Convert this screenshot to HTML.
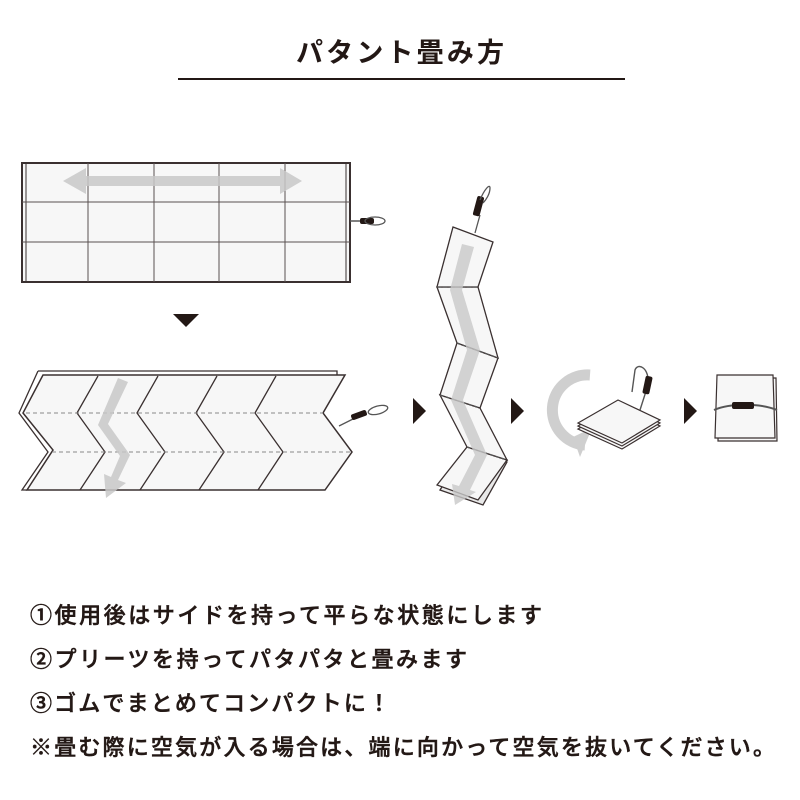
<!DOCTYPE html>
<html><head><meta charset="utf-8"><style>
html,body{margin:0;padding:0;background:#fff;width:800px;height:800px;overflow:hidden}
svg{display:block}
text{font-family:"Liberation Sans","Noto Sans CJK JP",sans-serif;fill:#231815}
</style></head><body>
<svg width="800" height="800" viewBox="0 0 800 800" xmlns="http://www.w3.org/2000/svg">
<text x="400" y="62" text-anchor="middle" font-size="27" font-weight="bold" textLength="208">パタント畳み方</text>
<line x1="178" y1="79" x2="625" y2="79" stroke="#231815" stroke-width="2"/>

<!-- top flat panel -->
<rect x="22" y="163" width="328" height="119" fill="#f7f7f7" stroke="#3a3030" stroke-width="2"/>
<line x1="26" y1="163" x2="26" y2="282" stroke="#3a3030" stroke-width="1"/>
<line x1="346" y1="163" x2="346" y2="282" stroke="#3a3030" stroke-width="1"/>
<g stroke="#5a5050" stroke-width="1">
<line x1="88" y1="163" x2="88" y2="282"/><line x1="154" y1="163" x2="154" y2="282"/>
<line x1="219" y1="163" x2="219" y2="282"/><line x1="285" y1="163" x2="285" y2="282"/>
<line x1="22" y1="202" x2="350" y2="202"/><line x1="22" y1="242" x2="350" y2="242"/>
</g>
<path d="M63,181 L86,168 L86,176 L280,176 L280,168 L302,181 L280,194 L280,186 L86,186 L86,194 Z" fill="#c8c8c8" opacity="0.85"/>
<g>
<line x1="350" y1="221" x2="362" y2="221" stroke="#555" stroke-width="1.5"/>
<rect x="360" y="218" width="14" height="6" rx="2" fill="#231815"/>
<ellipse cx="375" cy="221" rx="10" ry="4" fill="none" stroke="#555" stroke-width="1.3"/>
</g>
<polygon points="173,314 199,314 186,327" fill="#231815"/>

<!-- chevron panel -->
<path d="M38,371 L337,371 L337,376" fill="none" stroke="#3a3030" stroke-width="1.3"/>
<path d="M38,371 L19,413 L48,452 L22,490 L27,490" fill="none" stroke="#3a3030" stroke-width="1.3"/>
<path d="M43,375 L345,375 L323,413 L352,452 L325,490 L27,490 L53,450 L23,413 Z" fill="#f7f7f7" stroke="#3a3030" stroke-width="1.5"/>
<g fill="none" stroke="#3a3030" stroke-width="1.3">
<path d="M98,376 L77,413 L105,452 L80,490"/>
<path d="M158,376 L137,413 L165,452 L140,490"/>
<path d="M217,376 L196,413 L224,452 L199,490"/>
<path d="M276,376 L255,413 L283,452 L258,490"/>
</g>
<g stroke="#888" stroke-width="1" stroke-dasharray="4,3">
<line x1="26" y1="413" x2="323" y2="413"/><line x1="52" y1="452" x2="350" y2="452"/>
</g>
<path d="M118,378 L128,382 L108,424 L130,455 L118,480 L126,483 L106,498 L104,474 L111,477 L120,456 L98,425 Z" fill="#c8c8c8" opacity="0.85"/>
<g>
<line x1="339" y1="426" x2="353" y2="419" stroke="#555" stroke-width="1.3"/>
<rect x="351" y="412" width="16" height="6" rx="2" fill="#231815" transform="rotate(-20 359 415)"/>
<ellipse cx="378" cy="410" rx="10" ry="4" fill="none" stroke="#555" stroke-width="1.3" transform="rotate(-15 378 410)"/>
</g>

<!-- arrows -->
<polygon points="413,398 426,411 413,424" fill="#231815"/>
<polygon points="511,398 524,411 511,424" fill="#231815"/>
<polygon points="684,398 697,411 684,424" fill="#231815"/>

<!-- zigzag -->
<g stroke="#3a3030" stroke-width="1.3" fill="#f7f7f7">
<path d="M440,490 L467,447 L507,462 L483,505 Z" fill="#e8e8e8"/>
<path d="M437,485 L467,447 L507,460 L478,500 Z"/>
<path d="M440,395 L480,408 L507,460 L467,447 Z"/>
<path d="M457,343 L498,358 L480,408 L440,395 Z"/>
<path d="M437,287 L478,287 L498,358 L457,343 Z"/>
<path d="M453,227 L493,242 L478,287 L437,287 Z"/>
</g>
<g stroke="#555" stroke-width="1.2" stroke-dasharray="4,2">
<line x1="437" y1="287" x2="478" y2="287"/><line x1="457" y1="343" x2="498" y2="358"/>
<line x1="440" y1="395" x2="480" y2="408"/><line x1="467" y1="447" x2="507" y2="460"/>
</g>
<path d="M462,244 L474,247 L462,290 L480,350 L463,400 L487,455 L470,490 L476,492 L455,505 L452,484 L459,486 L475,455 L451,400 L467,350 L450,290 Z" fill="#c8c8c8" opacity="0.8"/>
<line x1="475" y1="233" x2="480" y2="215" stroke="#555" stroke-width="1.3"/>
<rect x="475" y="196" width="7" height="20" rx="2" fill="#231815" transform="rotate(15 478 206)"/>
<path d="M480,200 C484,190 490,183 490,188 C490,194 486,200 483,203" fill="none" stroke="#555" stroke-width="1.3"/>

<!-- small stack -->
<path d="M590,375 A34,34 0 1 0 585,445" fill="none" stroke="#cfcfcf" stroke-width="11"/>
<polygon points="573,437 592,428 580,457" fill="#cfcfcf"/>
<g stroke="#3a3030" stroke-width="1.2" fill="#f7f7f7">
<path d="M578,429 L618,406 L660,426 L622,449 Z"/>
<path d="M578,426 L618,403 L660,423 L622,446 Z"/>
<path d="M578,423 L618,400 L660,420 L622,443 Z"/>
</g>
<path d="M640,410 L648,385 C650,368 638,362 635,370 L632,392" fill="none" stroke="#555" stroke-width="1.4"/>
<rect x="644" y="376" width="7" height="18" rx="2" fill="#231815" transform="rotate(12 647 385)"/>

<!-- book -->
<g stroke="#3a3030" stroke-width="1.2" fill="#f7f7f7">
<path d="M719,378 L776,378 L777,441 L718,441 Z"/>
<path d="M717,375 L773,375 L775,438 L715,438 Z"/>
</g>
<path d="M714,410 C730,403 760,403 777,410" fill="none" stroke="#555" stroke-width="2"/>
<rect x="732" y="402" width="22" height="7" rx="2" fill="#231815"/>

<!-- text -->
<g font-size="22" font-weight="500" style="stroke:#231815;stroke-width:0.5">
<text x="30" y="623" textLength="512">①使用後はサイドを持って平らな状態にします</text>
<text x="30" y="667" textLength="437">②プリーツを持ってパタパタと畳みます</text>
<text x="30" y="711" textLength="360">③ゴムでまとめてコンパクトに！</text>
<text x="30" y="755" textLength="745">※畳む際に空気が入る場合は、端に向かって空気を抜いてください。</text>
</g>
</svg>
</body></html>
